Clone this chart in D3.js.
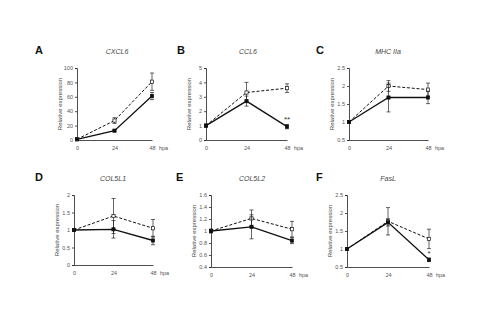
<!DOCTYPE html>
<html>
<head>
<meta charset="utf-8">
<script src="https://cdn.jsdelivr.net/npm/d3@7"></script>
<style>
	body { margin: 0; background: #fff; }
	text { font-family: "Liberation Sans", Arial, sans-serif; }
</style>
</head>
<body>
<div id="chart-area"></div>
<script>
// sampling times (hours post activation)
const HOURS = [0, 24, 48]

// panel A - CXCL6
const CXCL6_OPEN = [1, 27, 81]
const CXCL6_OPEN_ERR = [0.5, 4, 12]
const CXCL6_FILLED = [1, 13, 61]
const CXCL6_FILLED_ERR = [0.5, 1.5, 5]
const CXCL6_TICKS = [0, 20, 40, 60, 80, 100]

// panel B - CCL6
const CCL6_OPEN = [1, 3.3, 3.6]
const CCL6_OPEN_ERR = [0.08, 0.7, 0.3]
const CCL6_FILLED = [1, 2.7, 0.93]
const CCL6_FILLED_ERR = [0.08, 0.35, 0.15]
const CCL6_TICKS = [0, 1, 2, 3, 4, 5]

// panel C - MHC IIa
const MHC_OPEN = [1, 2.0, 1.9]
const MHC_OPEN_ERR = [0.03, 0.15, 0.18]
const MHC_FILLED = [1, 1.68, 1.68]
const MHC_FILLED_ERR = [0.03, 0.4, 0.17]
const MHC_TICKS = [0.5, 1, 1.5, 2, 2.5]

// panel D - COL5L1
const COL5L1_OPEN = [1, 1.4, 1.05]
const COL5L1_OPEN_ERR = [0.02, 0.5, 0.25]
const COL5L1_FILLED = [1, 1.02, 0.7]
const COL5L1_FILLED_ERR = [0.02, 0.25, 0.12]
const COL5L1_TICKS = [0, 0.5, 1, 1.5, 2]

// panel E - COL5L2
const COL5L2_OPEN = [1, 1.21, 1.03]
const COL5L2_OPEN_ERR = [0.03, 0.14, 0.13]
const COL5L2_FILLED = [1, 1.07, 0.84]
const COL5L2_FILLED_ERR = [0.03, 0.2, 0.05]
const COL5L2_TICKS = [0.4, 0.6, 0.8, 1, 1.2, 1.4, 1.6]

// panel F - FasL
const FASL_OPEN = [1, 1.77, 1.28]
const FASL_OPEN_ERR = [0.02, 0.38, 0.27]
const FASL_FILLED = [1, 1.74, 0.7]
const FASL_FILLED_ERR = [0.02, 0.1, 0.05]
const FASL_TICKS = [0.5, 1, 1.5, 2, 2.5]

class PanelController {

	constructor(svg, letter, title, box) {
		this.box = box
		this.g = svg.append("g")
			.attr("transform", `translate(${box.left}, ${box.top})`)
		this.width = box.width
		this.height = box.height

		this.g.append("text")
			.attr("x", box.letterX - box.left)
			.attr("y", -14)
			.attr("font-size", "11px")
			.attr("font-weight", "bold")
			.attr("fill", "#111")
			.text(letter)

		this.g.append("text")
			.attr("x", box.titleX - box.left)
			.attr("y", -14)
			.attr("font-size", "7px")
			.attr("font-style", "italic")
			.attr("text-anchor", "middle")
			.attr("fill", "#444")
			.text(title)

		// Y label
		this.g.append("text")
			.attr("x", -this.height / 2)
			.attr("y", -15)
			.attr("font-size", "6px")
			.attr("text-anchor", "middle")
			.attr("transform", "rotate(-90)")
			.attr("fill", "#444")
			.text("Relative expression")
	}

	setData(ticks, open, openErr, filled, filledErr, stars) {
		const x = d3.scaleLinear()
			.domain([0, 48])
			.range([0, this.width])

		const y = d3.scaleLinear()
			.domain(d3.extent(ticks))
			.range([this.height, 0])

		const yAxisCall = d3.axisLeft(y)
			.tickValues(ticks)
			.tickSize(2)
			.tickFormat(d => d)
		const yAxis = this.g.append("g")
			.attr("class", "y axis")
			.call(yAxisCall)
		yAxis.select(".domain").attr("stroke", "#222").attr("stroke-width", 0.8)
		yAxis.selectAll(".tick line").attr("stroke", "#222").attr("stroke-width", 0.8)
		yAxis.selectAll("text")
			.attr("font-size", "5.5px")
			.attr("fill", "#555")
			.attr("x", -4)

		const xAxisCall = d3.axisBottom(x)
			.tickValues(HOURS)
			.tickSize(0)
			.tickPadding(6)
		const xAxis = this.g.append("g")
			.attr("class", "x axis")
			.attr("transform", `translate(0, ${this.height})`)
			.call(xAxisCall)
		xAxis.select(".domain").attr("stroke", "#222").attr("stroke-width", 0.8)
		xAxis.selectAll("text")
			.attr("font-size", "5.5px")
			.attr("fill", "#555")

		this.g.append("text")
			.attr("x", x(48) + 7)
			.attr("y", this.height + 10)
			.attr("font-size", "5.5px")
			.attr("fill", "#555")
			.text("hpa")

		this._addSeries(x, y, open, openErr, true)
		this._addSeries(x, y, filled, filledErr, false)

		if (stars) {
			this.g.append("text")
				.attr("x", x(48))
				.attr("y", y(filled[2] + filledErr[2]) - 2)
				.attr("font-size", "8px")
				.attr("text-anchor", "middle")
				.attr("fill", "#333")
				.text(stars)
		}
	}

	_addSeries(x, y, values, errs, dashed) {
		const data = HOURS.map((h, i) => ({ h: h, v: values[i], e: errs[i] }))

		const line = d3.line()
			.x(d => x(d.h))
			.y(d => y(d.v))

		this.g.append("path")
			.datum(data)
			.attr("fill", "none")
			.attr("stroke", "#111")
			.attr("stroke-width", dashed ? 1 : 1.3)
			.attr("stroke-dasharray", dashed ? "3,1.8" : null)
			.attr("d", line)

		const bars = this.g.selectAll(null)
			.data(data)
			.enter().append("g")
			.attr("stroke", "#222")
			.attr("stroke-width", 0.7)
		bars.append("line")
			.attr("x1", d => x(d.h))
			.attr("x2", d => x(d.h))
			.attr("y1", d => y(d.v - d.e))
			.attr("y2", d => y(d.v + d.e))
		bars.append("line")
			.attr("x1", d => x(d.h) - 2)
			.attr("x2", d => x(d.h) + 2)
			.attr("y1", d => y(d.v + d.e))
			.attr("y2", d => y(d.v + d.e))
		bars.append("line")
			.attr("x1", d => x(d.h) - 2)
			.attr("x2", d => x(d.h) + 2)
			.attr("y1", d => y(d.v - d.e))
			.attr("y2", d => y(d.v - d.e))

		this.g.selectAll(null)
			.data(data)
			.enter().append("rect")
			.attr("x", d => x(d.h) - 1.6)
			.attr("y", d => y(d.v) - 1.6)
			.attr("width", 3.2)
			.attr("height", 3.2)
			.attr("fill", dashed ? "#fff" : "#111")
			.attr("stroke", "#111")
			.attr("stroke-width", 0.7)
	}
}

const svg = d3.select("#chart-area").append("svg")
	.attr("width", 500)
	.attr("height", 334)

const pA = new PanelController(svg, "A", "CXCL6", { left: 77, top: 68, width: 75, height: 72, letterX: 35, titleX: 117 })
pA.setData(CXCL6_TICKS, CXCL6_OPEN, CXCL6_OPEN_ERR, CXCL6_FILLED, CXCL6_FILLED_ERR)

const pB = new PanelController(svg, "B", "CCL6", { left: 206, top: 68, width: 81, height: 72, letterX: 177, titleX: 248 })
pB.setData(CCL6_TICKS, CCL6_OPEN, CCL6_OPEN_ERR, CCL6_FILLED, CCL6_FILLED_ERR, "**")

const pC = new PanelController(svg, "C", "MHC IIa", { left: 349, top: 68, width: 79, height: 72, letterX: 316, titleX: 388 })
pC.setData(MHC_TICKS, MHC_OPEN, MHC_OPEN_ERR, MHC_FILLED, MHC_FILLED_ERR)

const pD = new PanelController(svg, "D", "COL5L1", { left: 74, top: 195, width: 79, height: 70, letterX: 35, titleX: 113 })
pD.setData(COL5L1_TICKS, COL5L1_OPEN, COL5L1_OPEN_ERR, COL5L1_FILLED, COL5L1_FILLED_ERR)

const pE = new PanelController(svg, "E", "COL5L2", { left: 211, top: 195, width: 81, height: 72, letterX: 176, titleX: 252 })
pE.setData(COL5L2_TICKS, COL5L2_OPEN, COL5L2_OPEN_ERR, COL5L2_FILLED, COL5L2_FILLED_ERR)

const pF = new PanelController(svg, "F", "FasL", { left: 347, top: 195, width: 82, height: 72, letterX: 316, titleX: 388 })
pF.setData(FASL_TICKS, FASL_OPEN, FASL_OPEN_ERR, FASL_FILLED, FASL_FILLED_ERR, "*")
</script>
</body>
</html>
